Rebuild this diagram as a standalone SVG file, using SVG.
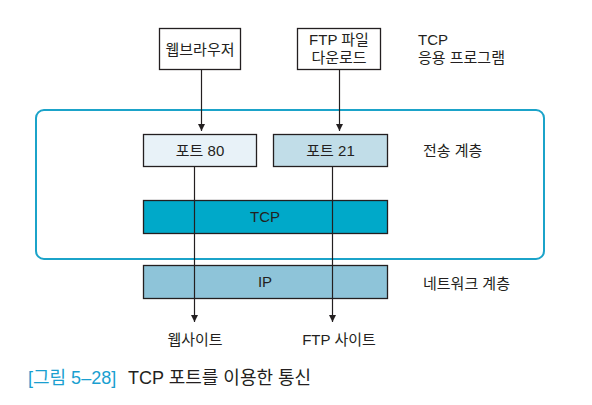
<svg xmlns="http://www.w3.org/2000/svg" width="592" height="405" viewBox="0 0 592 405">
<defs>
<marker id="ah" viewBox="0 0 10 10" refX="10" refY="5" markerWidth="7" markerHeight="7" orient="auto" markerUnits="userSpaceOnUse">
<path d="M0,0 L10,5 L0,10 z" fill="#231f20"/>
</marker>
<style>
text{font-family:"Liberation Sans","Noto Sans CJK KR",sans-serif;font-size:15px;fill:#231f20}
.c{text-anchor:middle}
.box{stroke:#231f20;stroke-width:1.3}
.ln{stroke:#231f20;stroke-width:1.2;fill:none;marker-end:url(#ah)}
</style>
</defs>
<rect width="592" height="405" fill="#ffffff"/>
<g id="container">
<rect x="36" y="110" width="508" height="149" rx="8" fill="none" stroke="#1ba3c9" stroke-width="2"/>
</g>
<g id="browser">
<rect class="box" x="159.5" y="28.5" width="81" height="41" fill="#fff"/>
<text class="c" x="200" y="55">웹브라우저</text>
</g>
<g id="ftpapp">
<rect class="box" x="297.5" y="28.5" width="83" height="41" fill="#fff"/>
<text class="c" x="339" y="45">FTP 파일</text>
<text class="c" x="339" y="63">다운로드</text>
</g>
<g id="applabel">
<text x="418" y="45">TCP</text>
<text x="418" y="63">응용 프로그램</text>
</g>
<g id="port80">
<rect class="box" x="143.5" y="134.5" width="113" height="32" fill="#e8f2f8"/>
<text class="c" x="200" y="156">포트 80</text>
</g>
<g id="port21">
<rect class="box" x="273.5" y="134.5" width="114" height="32" fill="#c1dde8"/>
<text class="c" x="330.5" y="156">포트 21</text>
</g>
<g id="translabel">
<text x="423" y="156">전송 계층</text>
</g>
<g id="tcp">
<rect class="box" x="143.5" y="200.5" width="244" height="33" fill="#00a9c9"/>
<text class="c" x="265" y="222">TCP</text>
</g>
<g id="ip">
<rect class="box" x="143.5" y="265.5" width="244" height="33" fill="#8ec4d9"/>
<text class="c" x="265" y="287">IP</text>
</g>
<g id="netlabel">
<text x="423" y="289">네트워크 계층</text>
</g>
<g id="connectors">
<line class="ln" x1="201.5" y1="70" x2="201.5" y2="131"/>
<line class="ln" x1="339.5" y1="70" x2="339.5" y2="131"/>
<line class="ln" x1="194.5" y1="167" x2="194.5" y2="322"/>
<line class="ln" x1="332.5" y1="167" x2="332.5" y2="322"/>
</g>
<g id="dest">
<text class="c" x="195" y="345">웹사이트</text>
<text class="c" x="339" y="345">FTP 사이트</text>
</g>
<g id="caption">
<text x="28" y="384" style="font-size:18px;fill:#1a9fd0">[그림 5–28]</text>
<text x="128" y="384" style="font-size:18px">TCP 포트를 이용한 통신</text>
</g>
</svg>
